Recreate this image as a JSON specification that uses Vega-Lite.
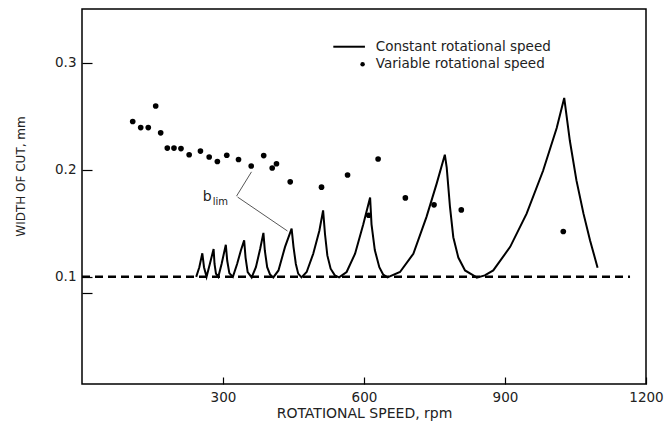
{
  "$schema": "https://vega.github.io/schema/vega-lite/v6.json",
  "width": 564,
  "height": 375,
  "autosize": {"type": "none"},
  "padding": {"left": 82, "top": 9, "right": 21, "bottom": 39},
  "background": "white",
  "config": {
    "view": {"stroke": "black", "strokeWidth": 1.5},
    "font": "DejaVu Sans",
    "axis": {
      "grid": false,
      "domain": false,
      "tickColor": "black",
      "tickWidth": 1.2,
      "labelColor": "#222",
      "titleColor": "#222",
      "labelFont": "DejaVu Sans",
      "titleFont": "DejaVu Sans",
      "titleFontWeight": "normal",
      "labelFlush": false
    }
  },
  "datasets": {
    "limit": [{"rpm": 0, "w": 0.1}, {"rpm": 1166, "w": 0.1}],
    "lobes": [
      {"rpm": 243, "w": 0.100}, {"rpm": 249.6, "w": 0.109}, {"rpm": 256, "w": 0.122},
      {"rpm": 259.6, "w": 0.109}, {"rpm": 265, "w": 0.100}, {"rpm": 272, "w": 0.112},
      {"rpm": 280, "w": 0.126}, {"rpm": 282, "w": 0.112}, {"rpm": 285, "w": 0.103},
      {"rpm": 290, "w": 0.100}, {"rpm": 297, "w": 0.112}, {"rpm": 306, "w": 0.130},
      {"rpm": 309, "w": 0.115}, {"rpm": 313.5, "w": 0.1035}, {"rpm": 321, "w": 0.100},
      {"rpm": 330, "w": 0.112}, {"rpm": 338, "w": 0.1246}, {"rpm": 345, "w": 0.134},
      {"rpm": 348, "w": 0.118}, {"rpm": 352.5, "w": 0.1045}, {"rpm": 361, "w": 0.0995},
      {"rpm": 370, "w": 0.109}, {"rpm": 379, "w": 0.126}, {"rpm": 386, "w": 0.141},
      {"rpm": 389, "w": 0.1246}, {"rpm": 394, "w": 0.109}, {"rpm": 400, "w": 0.1023},
      {"rpm": 407, "w": 0.0995}, {"rpm": 418, "w": 0.106}, {"rpm": 432, "w": 0.128},
      {"rpm": 446, "w": 0.145}, {"rpm": 450, "w": 0.128}, {"rpm": 455, "w": 0.112},
      {"rpm": 460, "w": 0.103}, {"rpm": 467, "w": 0.0995}, {"rpm": 478, "w": 0.1045},
      {"rpm": 492, "w": 0.1216}, {"rpm": 505, "w": 0.143}, {"rpm": 513, "w": 0.162},
      {"rpm": 517, "w": 0.140}, {"rpm": 522, "w": 0.120}, {"rpm": 529, "w": 0.1076},
      {"rpm": 538, "w": 0.1014}, {"rpm": 547, "w": 0.0995}, {"rpm": 563, "w": 0.1045},
      {"rpm": 581, "w": 0.1216}, {"rpm": 598.5, "w": 0.149}, {"rpm": 613, "w": 0.174},
      {"rpm": 616, "w": 0.149}, {"rpm": 623, "w": 0.125}, {"rpm": 632.6, "w": 0.109},
      {"rpm": 641, "w": 0.102}, {"rpm": 650, "w": 0.0995}, {"rpm": 676.6, "w": 0.1045},
      {"rpm": 705, "w": 0.1216}, {"rpm": 733, "w": 0.156}, {"rpm": 754.6, "w": 0.187},
      {"rpm": 772, "w": 0.214}, {"rpm": 776, "w": 0.202}, {"rpm": 783, "w": 0.165},
      {"rpm": 790, "w": 0.137}, {"rpm": 800.7, "w": 0.118}, {"rpm": 815, "w": 0.106},
      {"rpm": 832.6, "w": 0.1014}, {"rpm": 840, "w": 0.0993}, {"rpm": 857, "w": 0.1014},
      {"rpm": 875, "w": 0.106}, {"rpm": 911, "w": 0.128}, {"rpm": 946, "w": 0.159},
      {"rpm": 981, "w": 0.199}, {"rpm": 1010, "w": 0.239}, {"rpm": 1026, "w": 0.267},
      {"rpm": 1038, "w": 0.227}, {"rpm": 1052, "w": 0.190}, {"rpm": 1067, "w": 0.159},
      {"rpm": 1081, "w": 0.134}, {"rpm": 1097, "w": 0.1086}
    ],
    "dots": [
      {"rpm": 107.9, "w": 0.245}, {"rpm": 124.9, "w": 0.2393}, {"rpm": 141, "w": 0.2393},
      {"rpm": 156.8, "w": 0.2595}, {"rpm": 167.4, "w": 0.2344}, {"rpm": 181.5, "w": 0.2202},
      {"rpm": 195.7, "w": 0.2202}, {"rpm": 210.6, "w": 0.2197}, {"rpm": 228, "w": 0.214},
      {"rpm": 252, "w": 0.2174}, {"rpm": 270.6, "w": 0.2119}, {"rpm": 288, "w": 0.2077},
      {"rpm": 308, "w": 0.2135}, {"rpm": 333, "w": 0.2095}, {"rpm": 360, "w": 0.2035},
      {"rpm": 386.6, "w": 0.2132}, {"rpm": 404.7, "w": 0.2016}, {"rpm": 413.8, "w": 0.2056},
      {"rpm": 443, "w": 0.1887}, {"rpm": 509.6, "w": 0.1837}, {"rpm": 565, "w": 0.1951},
      {"rpm": 610, "w": 0.1575}, {"rpm": 630, "w": 0.21}, {"rpm": 688, "w": 0.1737},
      {"rpm": 749, "w": 0.1672}, {"rpm": 807, "w": 0.1625}, {"rpm": 1024, "w": 0.1423}
    ],
    "leader": [
      {"rpm": 328.7, "w": 0.1753, "rpm2": 360.6, "w2": 0.198},
      {"rpm": 331, "w": 0.1745, "rpm2": 437.2, "w2": 0.1428}
    ],
    "blab": [{"rpm": 257, "w": 0.171, "t": "b"}],
    "lim": [{"rpm": 278, "w": 0.1675, "t": "lim"}],
    "legline": [{"rpm": 534.7, "w": 0.3148, "rpm2": 602}],
    "legdot": [{"rpm": 597, "w": 0.2985}],
    "legtext": [
      {"rpm": 625, "w": 0.3148, "t": "Constant rotational speed"},
      {"rpm": 625, "w": 0.2985, "t": "Variable rotational speed"}
    ]
  },
  "encoding": {
    "x": {
      "field": "rpm",
      "type": "quantitative",
      "scale": {"domain": [0, 1200], "nice": false, "zero": false},
      "axis": {
        "values": [300, 600, 900, 1200],
        "format": "d",
        "tickSize": -7,
        "labelPadding": 13,
        "labelFontSize": 13.5,
        "title": "ROTATIONAL SPEED, rpm",
        "titleFontSize": 14,
        "titleY": 33,
        "titleBaseline": "alphabetic"
      }
    },
    "y": {
      "field": "w",
      "type": "quantitative",
      "scale": {"domain": [0, 0.35], "nice": false, "zero": false},
      "axis": {
        "values": [0.0847, 0.1, 0.2, 0.3],
        "labelExpr": "datum.value < 0.09 ? '' : format(datum.value, '.1f')",
        "tickSize": -10,
        "labelPadding": 16,
        "labelFontSize": 13.5,
        "title": "WIDTH OF CUT, mm",
        "titleFontSize": 12,
        "titleX": -62,
        "titleY": 167,
        "titleAlign": "center",
        "titleBaseline": "middle",
        "titleAngle": -90
      }
    }
  },
  "layer": [
    {
      "data": {"name": "limit"},
      "mark": {"type": "line", "color": "black", "strokeWidth": 2.5, "strokeDash": [8, 5]}
    },
    {
      "data": {"name": "lobes"},
      "mark": {"type": "line", "color": "black", "strokeWidth": 2}
    },
    {
      "data": {"name": "dots"},
      "mark": {"type": "point", "filled": true, "color": "black", "opacity": 1, "size": 32}
    },
    {
      "data": {"name": "leader"},
      "mark": {"type": "rule", "color": "#444", "strokeWidth": 0.9},
      "encoding": {
        "x2": {"field": "rpm2"},
        "y2": {"field": "w2"}
      }
    },
    {
      "data": {"name": "blab"},
      "mark": {"type": "text", "align": "left", "baseline": "alphabetic", "fontSize": 14, "color": "#222"},
      "encoding": {"text": {"field": "t"}}
    },
    {
      "data": {"name": "lim"},
      "mark": {"type": "text", "align": "left", "baseline": "alphabetic", "fontSize": 10, "color": "#222"},
      "encoding": {"text": {"field": "t"}}
    },
    {
      "data": {"name": "legline"},
      "mark": {"type": "rule", "color": "black", "strokeWidth": 2},
      "encoding": {"x2": {"field": "rpm2"}}
    },
    {
      "data": {"name": "legdot"},
      "mark": {"type": "point", "filled": true, "color": "black", "opacity": 1, "size": 20}
    },
    {
      "data": {"name": "legtext"},
      "mark": {"type": "text", "align": "left", "baseline": "middle", "fontSize": 13.5, "color": "#222"},
      "encoding": {"text": {"field": "t"}}
    }
  ]
}
